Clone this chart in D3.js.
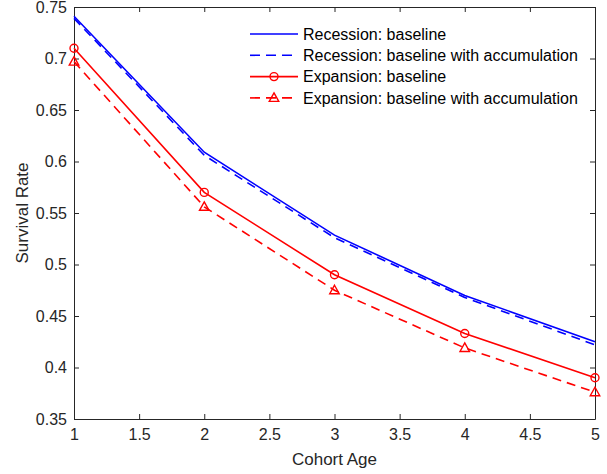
<!DOCTYPE html>
<html>
<head>
<meta charset="utf-8">
<script src="https://cdn.jsdelivr.net/npm/d3@7"></script>
<style>
  html, body { margin: 0; padding: 0; background: #fff; }
  svg { display: block; font-family: "Liberation Sans", Arial, sans-serif; }
</style>
</head>
<body>
<svg id="chart" width="607" height="474"></svg>
<script>
// Survival rate by cohort age under recession and expansion scenarios
const cohortAge = [1, 2, 3, 4, 5];
const recessionBaseline = [0.741, 0.609, 0.5285, 0.470, 0.425];
const recessionAccum = [0.739, 0.606, 0.526, 0.468, 0.422];
const expansionBaseline = [0.710, 0.570, 0.490, 0.433, 0.390];
const expansionAccum = [0.697, 0.556, 0.475, 0.419, 0.376];

const xTicks = [1, 1.5, 2, 2.5, 3, 3.5, 4, 4.5, 5];
const yTicks = [0.35, 0.4, 0.45, 0.5, 0.55, 0.6, 0.65, 0.7, 0.75];

const seriesList = [
  { name: "Recession: baseline", values: recessionBaseline, color: "#0000ff", dash: null, marker: null },
  { name: "Recession: baseline with accumulation", values: recessionAccum, color: "#0000ff", dash: "9,6", marker: null },
  { name: "Expansion: baseline", values: expansionBaseline, color: "#ff0000", dash: null, marker: "circle" },
  { name: "Expansion: baseline with accumulation", values: expansionAccum, color: "#ff0000", dash: "9,6", marker: "triangle" }
];

const svg = d3.select("#chart");
const m = { left: 74, right: 595, top: 7, bottom: 419 };
const x = d3.scaleLinear().domain([1, 5]).range([m.left, m.right]);
const y = d3.scaleLinear().domain([0.35, 0.75]).range([m.bottom, m.top]);
const axisColor = "#262626";
const fmt = d => String(+d.toFixed(2));

// axes with inward ticks on all four sides
const gx = svg.append("g").attr("transform", `translate(0,${m.bottom})`)
  .call(d3.axisBottom(x).tickValues(xTicks).tickFormat(d => String(d)).tickSizeInner(-5).tickSizeOuter(0).tickPadding(10));
const gxTop = svg.append("g").attr("transform", `translate(0,${m.top})`)
  .call(d3.axisTop(x).tickValues(xTicks).tickFormat("").tickSizeInner(-5).tickSizeOuter(0));
const gy = svg.append("g").attr("transform", `translate(${m.left},0)`)
  .call(d3.axisLeft(y).tickValues(yTicks).tickFormat(fmt).tickSizeInner(-5).tickSizeOuter(0).tickPadding(7));
const gyRight = svg.append("g").attr("transform", `translate(${m.right},0)`)
  .call(d3.axisRight(y).tickValues(yTicks).tickFormat("").tickSizeInner(-5).tickSizeOuter(0));

[gx, gxTop, gy, gyRight].forEach(g => {
  g.select(".domain").attr("stroke", axisColor).attr("stroke-width", 1);
  g.selectAll(".tick line").attr("stroke", axisColor).attr("stroke-width", 1);
  g.selectAll(".tick text").attr("fill", axisColor).style("font-size", "16px")
    .style("font-family", "'Liberation Sans', Arial, sans-serif");
});

// axis titles
svg.append("text").attr("x", (m.left + m.right) / 2).attr("y", 465)
  .attr("text-anchor", "middle").attr("fill", axisColor).style("font-size", "17px").text("Cohort Age");
svg.append("text").attr("transform", `translate(28,${(m.top + m.bottom) / 2}) rotate(-90)`)
  .attr("text-anchor", "middle").attr("fill", axisColor).style("font-size", "17px").text("Survival Rate");

const line = d3.line().x((d, i) => x(cohortAge[i])).y(d => y(d));
const triPath = s => `M0,${-s}L${s * 0.95},${s * 0.7}L${-s * 0.95},${s * 0.7}Z`;

function drawMarker(g, kind, cx, cy, color) {
  if (kind === "circle") {
    g.append("circle").attr("cx", cx).attr("cy", cy).attr("r", 4)
      .attr("fill", "none").attr("stroke", color).attr("stroke-width", 1.4);
  } else if (kind === "triangle") {
    g.append("path").attr("d", triPath(5)).attr("transform", `translate(${cx},${cy})`)
      .attr("fill", "none").attr("stroke", color).attr("stroke-width", 1.4);
  }
}

const plot = svg.append("g");
seriesList.forEach(s => {
  plot.append("path").datum(s.values).attr("d", line)
    .attr("fill", "none").attr("stroke", s.color).attr("stroke-width", 1.6)
    .attr("stroke-dasharray", s.dash);
  if (s.marker) {
    s.values.forEach((v, i) => drawMarker(plot, s.marker, x(cohortAge[i]), y(v), s.color));
  }
});

// legend
const legend = svg.append("g");
seriesList.forEach((s, i) => {
  const ly = 34 + i * 21.3;
  legend.append("line").attr("x1", 250).attr("x2", 298).attr("y1", ly).attr("y2", ly)
    .attr("stroke", s.color).attr("stroke-width", 1.6).attr("stroke-dasharray", s.dash ? "10,6" : null);
  if (s.marker) drawMarker(legend, s.marker, 274, ly, s.color);
  legend.append("text").attr("x", 303).attr("y", ly).attr("dy", "0.35em")
    .attr("fill", "#000").style("font-size", "16px").text(s.name);
});
</script>
</body>
</html>
